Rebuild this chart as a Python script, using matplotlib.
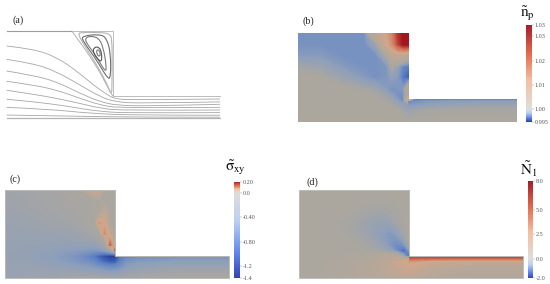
import numpy as np
import matplotlib
matplotlib.use('Agg')
import matplotlib.pyplot as plt
from matplotlib.colors import LinearSegmentedColormap, TwoSlopeNorm
from matplotlib.path import Path
from matplotlib.patches import PathPatch

plt.rcParams['font.family'] = ['Liberation Serif', 'DejaVu Serif']
plt.rcParams['mathtext.fontset'] = 'stix'

# Grid the fields were read on, x/y in downstream channel heights
up_x = [-5.2, -4, -3, -2, -1.5, -1, -0.75, -0.5, -0.25, 0]
up_y = [0, 0.5, 0.75, 1, 1.25, 1.5, 2, 2.5, 3, 3.5, 4]
down_x = [0, 0.25, 0.5, 1, 2, 3, 5.2]
down_y = [0, 0.5, 0.75, 0.93, 1]

# Panel (b), first normal stress coefficient field
np_up = [
    [1, 1, 1, 1, 1, 1, 1, 1, 1, 1],
    [1, 1, 1, 1, 1, 1, 1, 1, 0.9995, 0.999],
    [1, 1, 1, 1, 1, 1, 0.9995, 0.999, 0.9985, 0.998],
    [1, 1, 1, 1, 1, 0.9995, 0.999, 0.998, 0.9968, 1.01],
    [1, 1, 1, 1, 0.9998, 0.9988, 0.998, 0.9975, 0.9975, 1.002],
    [1, 1, 1, 0.9995, 0.999, 0.998, 0.9975, 0.9978, 0.998, 1.003],
    [1, 1, 0.999, 0.998, 0.9975, 0.9978, 0.9985, 0.998, 0.9962, 0.9955],
    [0.9995, 0.999, 0.998, 0.9975, 0.9975, 0.9978, 1.0, 0.9985, 0.997, 0.9965],
    [0.998, 0.998, 0.9975, 0.9975, 0.9975, 1.0, 1.005, 1.006, 1.004, 1.002],
    [0.9975, 0.9975, 0.9975, 0.9975, 0.999, 1.01, 1.016, 1.027, 1.035, 1.035],
    [0.9975, 0.9975, 0.9975, 0.9975, 1.005, 1.012, 1.018, 1.03, 1.035, 1.035],
]
np_down = [
    [1, 1, 1, 1, 1, 1, 1],
    [0.999, 0.9992, 0.9995, 0.9997, 0.9998, 0.9998, 0.9998],
    [0.998, 0.998, 0.9982, 0.9985, 0.9988, 0.999, 0.999],
    [0.997, 0.9972, 0.9975, 0.9978, 0.998, 0.998, 0.998],
    [1.01, 0.9965, 0.9965, 0.9965, 0.9965, 0.9965, 0.9965],
]

# Panel (c), shear stress field
sxy_up = [
    [-0.28, -0.25, -0.22, -0.15, -0.12, -0.12, -0.12, -0.13, -0.15, -0.15],
    [-0.3, -0.3, -0.35, -0.42, -0.48, -0.55, -0.62, -0.7, -0.75, -0.75],
    [-0.32, -0.34, -0.42, -0.55, -0.65, -0.8, -0.95, -1.1, -1.2, -1.2],
    [-0.33, -0.36, -0.45, -0.6, -0.75, -0.95, -1.15, -1.3, -1.4, -1.4],
    [-0.33, -0.35, -0.42, -0.5, -0.55, -0.6, -0.6, -0.5, -0.2, 0.16],
    [-0.33, -0.33, -0.35, -0.38, -0.38, -0.36, -0.3, -0.15, 0.13, 0.02],
    [-0.3, -0.3, -0.28, -0.25, -0.2, -0.13, -0.05, 0.09, 0.04, -0.01],
    [-0.27, -0.25, -0.2, -0.16, -0.1, -0.03, 0.08, 0.06, 0.0, -0.02],
    [-0.25, -0.2, -0.15, -0.1, -0.07, -0.04, -0.01, 0.03, 0.0, -0.02],
    [-0.22, -0.18, -0.12, -0.08, -0.05, -0.02, 0.0, 0.0, -0.01, -0.02],
    [-0.2, -0.15, -0.1, -0.08, 0.01, 0.05, 0.04, 0.0, -0.03, -0.03],
]
sxy_down = [
    [-0.15, -0.15, -0.13, -0.1, -0.05, -0.03, -0.03],
    [-0.75, -0.65, -0.5, -0.4, -0.32, -0.3, -0.3],
    [-1.2, -0.85, -0.65, -0.55, -0.5, -0.47, -0.47],
    [-1.3, -0.95, -0.8, -0.7, -0.65, -0.62, -0.62],
    [-1.4, -1.0, -0.95, -0.85, -0.8, -0.75, -0.75],
]

# Panel (d), first normal stress difference field
n1_up = [
    [0, 0.1, 0.2, 0.4, 0.6, 0.8, 0.9, 0.9, 1, 1],
    [0, 0.1, 0.2, 0.4, 0.7, 1.1, 1.4, 1.7, 2.0, 2.3],
    [0, 0, 0.2, 0.4, 0.7, 1.1, 1.5, 2, 2.4, 3],
    [0, 0, 0.1, 0.2, 0.4, 0.6, 0.7, 0.5, -0.4, -2],
    [0, 0, 0, -0.05, -0.15, -0.4, -0.7, -1.2, -1.7, -0.8],
    [0, 0, 0, -0.13, -0.3, -0.7, -0.95, -1.1, -0.9, -0.15],
    [0, 0, -0.05, -0.3, -0.55, -0.8, -0.8, -0.55, -0.2, -0.03],
    [0, 0, -0.08, -0.32, -0.48, -0.48, -0.35, -0.2, -0.06, 0],
    [0, 0, -0.03, -0.16, -0.24, -0.2, -0.13, -0.06, -0.02, 0],
    [0, 0, 0, 0, -0.05, -0.05, -0.03, -0.02, 0, 0],
    [0, 0, 0, 0, 0, 0, 0, 0, 0, 0],
]
n1_down = [
    [1, 0.9, 0.8, 0.6, 0.3, 0.15, 0.15],
    [2.3, 2, 1.7, 1.3, 0.9, 0.7, 0.7],
    [3, 3, 2.6, 2.2, 1.8, 1.6, 1.6],
    [6, 6, 6, 6, 6, 6, 6],
    [8, 8, 8, 8, 8, 8, 8],
]

# Panel (a), streamlines through the contraction
stream_x = [
    [-4.87, -3.65, -2.59, -1.67, -0.91, -0.3, 0.08, 0.9, 4.87],
    [-4.87, -3.65, -2.59, -1.52, -0.61, 0.08, 1.2, 4.87],
    [-4.87, -3.65, -2.59, -1.52, -0.61, 0.15, 1.67, 4.87],
    [-4.87, -3.65, -2.59, -1.52, -0.61, 0.3, 4.87],
    [-4.87, -3.65, -2.59, -1.52, -0.61, 0.46, 4.87],
    [-4.87, -3.65, -2.13, -0.61, 0.9, 4.87],
    [-4.87, -3, -1, 1, 4.87],
    [-4.87, -2, 1, 4.87],
    [-1.9, -1.55, -1.37, -0.76, -0.3, -0.08, 0],
]
stream_y = [
    [3.3, 3.17, 2.79, 2.16, 1.52, 1.09, 0.88, 0.84, 0.88],
    [2.69, 2.51, 2.13, 1.52, 0.99, 0.75, 0.68, 0.75],
    [2.16, 1.96, 1.67, 1.14, 0.76, 0.59, 0.56, 0.64],
    [1.69, 1.52, 1.29, 0.91, 0.61, 0.46, 0.5],
    [1.28, 1.1, 0.91, 0.68, 0.46, 0.35, 0.38],
    [0.87, 0.76, 0.56, 0.3, 0.24, 0.26],
    [0.5, 0.42, 0.22, 0.14, 0.14],
    [0.15, 0.1, 0.05, 0.05],
    [4, 3.5, 3.27, 2.36, 1.52, 1.07, 1],
]

# Closed loops of the corner vortex, outer to inner
loop_x = [
    [-1.64, -1.4, -0.5, -0.15, -0.06, -0.05, -0.06, -0.08, -0.3, -0.76, -1.3],
    [-1.45, -0.6, -0.3, -0.12, -0.12, -0.27, -0.76, -1.37],
    [-1.29, -1.07, -0.68, -0.46, -0.3, -0.38, -0.76, -1.22],
    [-0.91, -0.64, -0.53, -0.53, -0.68, -0.91],
    [-0.76, -0.64, -0.58, -0.67, -0.76],
]
loop_y = [
    [3.88, 3.92, 3.92, 3.85, 3.6, 2.5, 1.5, 1.05, 1.6, 2.45, 3.3],
    [3.76, 3.84, 3.65, 2.97, 1.83, 1.83, 2.66, 3.5],
    [3.65, 3.76, 3.68, 3.27, 2.28, 2.13, 2.82, 3.42],
    [3.23, 3.27, 2.97, 2.59, 2.66, 2.97],
    [3.12, 3.12, 2.89, 2.82, 2.97],
]
loop_grey = ['#b4b4b4', '#6e6e6e', '#7c7c7c', '#555555', '#777777']

# Colour bar ticks
np_ticks = [1.0347, 1.03, 1.02, 1.01, 1.00, 0.9948]
np_labels = ['1.03', '1.03', '1.02', '1.01', '1.00', '0.995']
sxy_ticks = [0.19, 0.0, -0.40, -0.80, -1.2, -1.4]
sxy_labels = ['0.20', '0.0', '-0.40', '-0.80', '-1.2', '-1.4']
n1_ticks = [8.0, 5.0, 2.5, 0.0, -2.0]
n1_labels = ['8.0', '5.0', '2.5', '0.0', '-2.0']

# ParaView look: the bar is brighter than the lit surface
bar_cmap = LinearSegmentedColormap.from_list('bar', [
    '#3044b8', '#6a8ff0', '#bccff2', '#dedddb', '#f4c0a2', '#e26a4c', '#a51c2c'])
field_cmap = LinearSegmentedColormap.from_list('field', [
    '#24409c', '#5b7fc6', '#8d9fbb', '#aca79e', '#d2a68a', '#cf6a4e', '#a3151f'])

W, H = 550, 284
fig = plt.figure(figsize=(W / 100, H / 100), dpi=100)


def pixel_axes(left, top, right, bottom):
    ax = fig.add_axes([left / W, 1 - bottom / H, (right - left) / W, (bottom - top) / H])
    return ax


def domain_axes(left, top, right, bottom, step_x):
    # x=0 sits on the step, y runs over the four channel heights
    ax = pixel_axes(left, top, right, bottom)
    unit = (bottom - top) / 4
    ax.set_xlim((left - step_x) / unit, (right - step_x) / unit)
    ax.set_ylim(0, 4)
    ax.axis('off')
    return ax


def outline(ax, color, lw):
    x0, x1 = ax.get_xlim()
    ax.plot([x0, 0, 0, x1, x1, x0, x0], [4, 4, 1, 1, 0, 0, 4], color=color, lw=lw,
            clip_on=False, solid_joinstyle='miter')


def draw_field(ax, up, down, norm, edge=None):
    # Bands evenly spaced in colour, so both sides of the neutral value stay smooth
    levels = norm.inverse(np.linspace(0, 1, 161))
    ax.contourf(up_x, up_y, np.array(up), levels=levels, cmap=field_cmap, norm=norm,
                extend='both', antialiased=False)
    ax.contourf(down_x, down_y, np.array(down), levels=levels, cmap=field_cmap, norm=norm,
                extend='both', antialiased=False)
    if edge:
        outline(ax, edge, 0.7)


def draw_bar(left, top, right, bottom, norm, ticks, labels):
    cax = pixel_axes(left, top, right, bottom)
    levels = np.linspace(norm.vmin, norm.vmax, 200)
    cax.pcolormesh([0, 1], levels, np.c_[levels, levels][:-1, :1], cmap=bar_cmap, norm=norm)
    cax.set_xticks([])
    cax.yaxis.tick_right()
    cax.set_yticks(ticks)
    cax.set_yticklabels(labels, fontsize=4.4, color='#555555')
    cax.tick_params(axis='y', length=1.5, width=0.3, color='#888888', pad=0.6)
    for spine in cax.spines.values():
        spine.set_visible(False)
    return cax


def smooth_path(xs, ys, closed=False):
    # Quadratic segments between midpoints of the read points
    pts = np.column_stack([xs, ys])
    if closed:
        mids = (pts + np.roll(pts, -1, axis=0)) / 2
        verts = [mids[-1]]
        codes = [Path.MOVETO]
        for p, m in zip(pts, mids):
            verts += [p, m]
            codes += [Path.CURVE3, Path.CURVE3]
    else:
        verts = [pts[0]]
        codes = [Path.MOVETO]
        for i in range(1, len(pts) - 1):
            end = pts[i + 1] if i == len(pts) - 2 else (pts[i] + pts[i + 1]) / 2
            verts += [pts[i], end]
            codes += [Path.CURVE3, Path.CURVE3]
    return Path(verts, codes)


# (a) streamlines
ax_a = domain_axes(6.7, 30.7, 220, 118.3, 113.3)
for xs, ys in zip(stream_x, stream_y):
    ax_a.add_patch(PathPatch(smooth_path(xs, ys), fc='none', ec='#a6a6a6', lw=0.6, clip_on=False))
for xs, ys, grey in zip(loop_x, loop_y, loop_grey):
    ax_a.add_patch(PathPatch(smooth_path(xs, ys, closed=True), fc='none', ec=grey, lw=0.8))
ax_a.plot([-4.87, -1.9], [4, 4], color='#9c9c9c', lw=0.8, clip_on=False)
ax_a.plot([-1.9, 0, 0, 4.87], [4, 4, 1, 1], color='#bcbcbc', lw=0.7, clip_on=False)
ax_a.plot([-4.87, 4.87], [0, 0], color='#b4b4b4', lw=0.9, clip_on=False)

# (b) to (d) fields
norm_np = TwoSlopeNorm(vmin=0.9948, vcenter=1.0, vmax=1.0347)
ax_b = domain_axes(298, 33.3, 517, 121.5, 408.7)
draw_field(ax_b, np_up, np_down, norm_np)
draw_bar(526, 25, 531.5, 121.7, norm_np, np_ticks, np_labels)

norm_sxy = TwoSlopeNorm(vmin=-1.4, vcenter=0.0, vmax=0.19)
ax_c = domain_axes(5, 190.3, 229, 278, 115.3)
draw_field(ax_c, sxy_up, sxy_down, norm_sxy, edge='#b9b9b5')
draw_bar(234.3, 181.7, 240, 278, norm_sxy, sxy_ticks, sxy_labels)

norm_n1 = TwoSlopeNorm(vmin=-2.0, vcenter=0.0, vmax=8.0)
ax_d = domain_axes(299, 190.3, 523, 278, 409.3)
draw_field(ax_d, n1_up, n1_down, norm_n1, edge='#bdbcb8')
draw_bar(528, 181.3, 533, 278, norm_n1, n1_ticks, n1_labels)

# Panel letters and colour bar titles
for label, px, py in [('(a)', 18.5, 20), ('(b)', 308, 21), ('(c)', 15, 179), ('(d)', 312, 182)]:
    fig.text(px / W, 1 - py / H, label, fontsize=7.2, ha='center', va='center', color='#222222')
for label, px, py in [(r'$\tilde{\mathrm{n}}_{\mathrm{p}}$', 527, 14),
                      (r'$\tilde{\mathrm{\sigma}}_{\mathrm{xy}}$', 235.5, 168),
                      (r'$\tilde{\mathrm{N}}_{1}$', 528.5, 169)]:
    fig.text(px / W, 1 - py / H, label, fontsize=11, ha='center', va='center', color='#111111')

fig.savefig('out.png', dpi=100)
